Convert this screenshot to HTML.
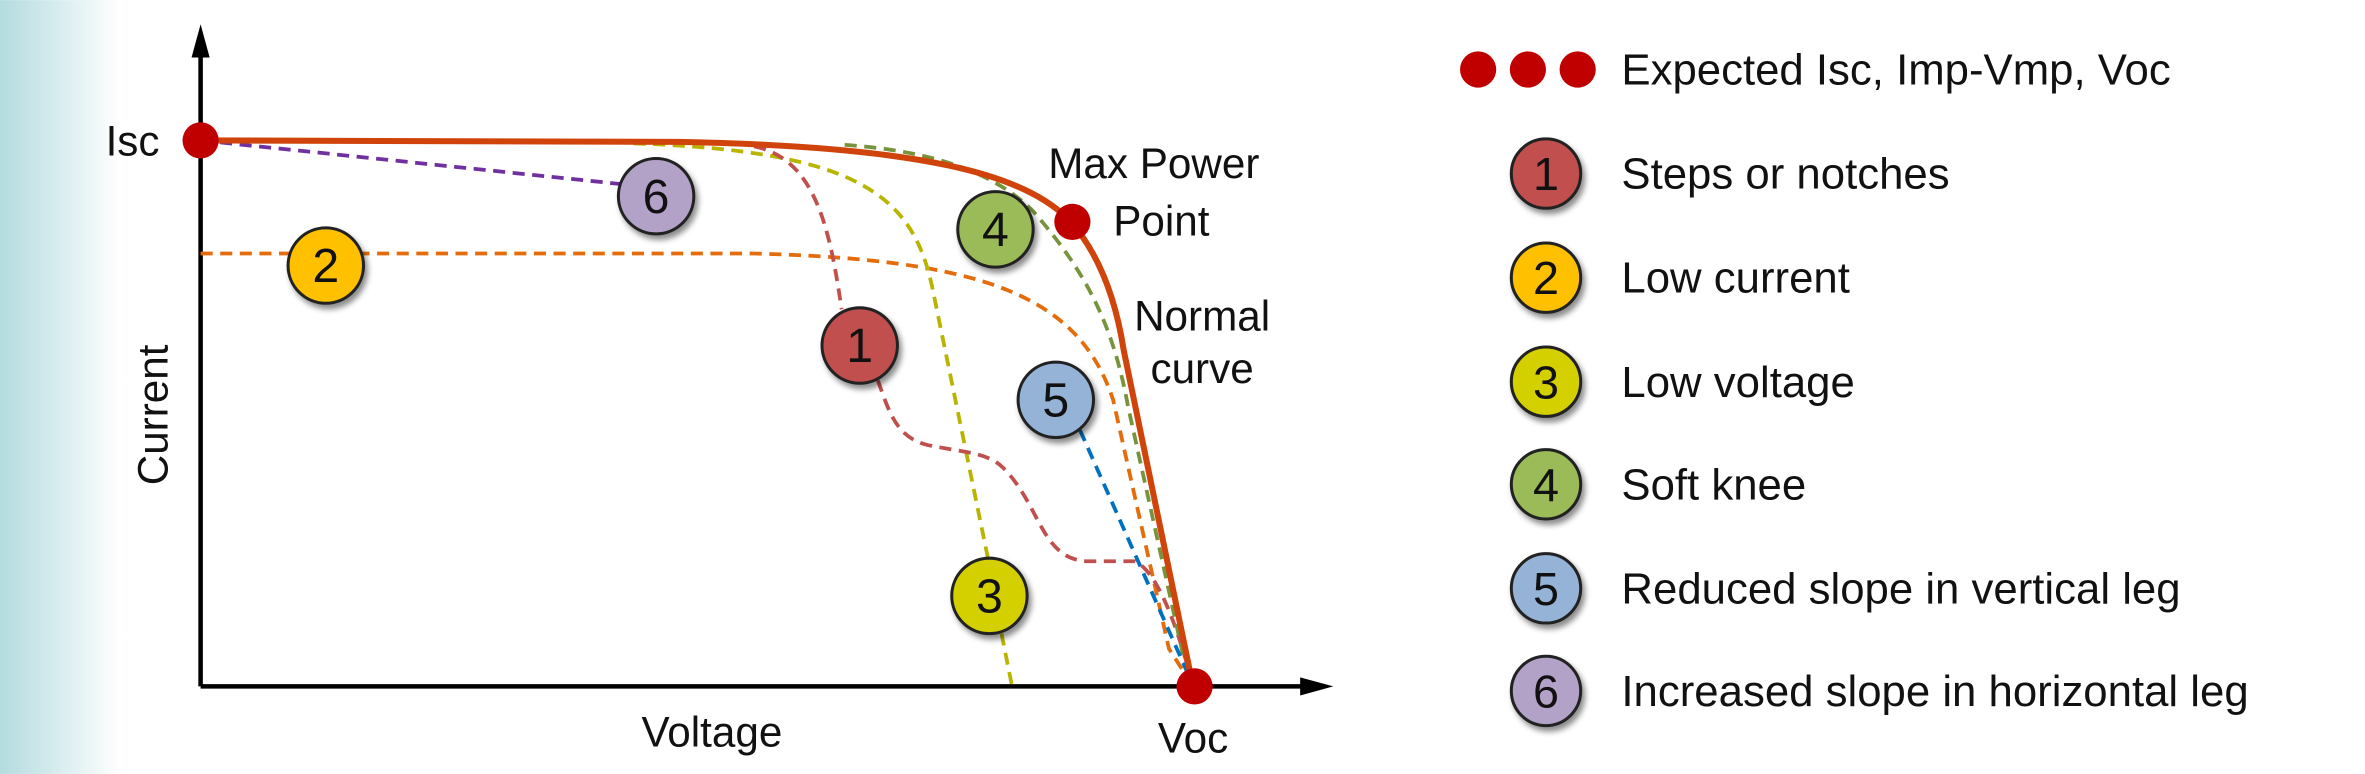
<!DOCTYPE html>
<html><head><meta charset="utf-8"><style>
html,body{margin:0;padding:0;background:#fff}
svg{display:block}
text{font-family:"Liberation Sans",sans-serif;fill:#111}
</style></head><body>
<svg width="2365" height="774" viewBox="0 0 1568 513" xmlns="http://www.w3.org/2000/svg">
<defs>
<linearGradient id="g" x1="0" x2="1" y1="0" y2="0">
<stop offset="0" stop-color="#b4dbdf"/><stop offset="1" stop-color="#ffffff"/>
</linearGradient>
<filter id="sh" x="-30%" y="-30%" width="170%" height="170%">
<feDropShadow dx="2" dy="3" stdDeviation="2" flood-color="#000" flood-opacity="0.45"/>
</filter>
</defs>
<rect x="0" y="0" width="80" height="513" fill="url(#g)"/>
<line x1="133" y1="455" x2="133" y2="30" stroke="#000" stroke-width="3"/>
<polygon points="133,16 127,38 139,38" fill="#000"/>
<line x1="133" y1="455" x2="868" y2="455" stroke="#000" stroke-width="3"/>
<polygon points="884,455 862,449 862,461" fill="#000"/>
<g fill="none" stroke-width="2.5" stroke-dasharray="8,5">
<path d="M133,93 L412,122" stroke="#7030a0"/>
<path d="M133,168 L500,168 C650,172 715,195 738,265 L775,430 L791,455" stroke="#e46c0a"/>
<path d="M420,95 C570,100 605,130 618,190 L655,370" stroke="#b8b400"/>
<path d="M664,420 L671,455" stroke="#b8b400"/>
<path d="M500,97 C540,105 550,150 558,205" stroke="#c0504d"/>
<path d="M582,252 C590,275 595,290 615,295 C640,300 655,300 665,310 C690,335 690,370 720,372 L752,372 C768,378 782,420 791,455" stroke="#c0504d"/>
<path d="M560,96 C620,100 660,115 685,140 C720,180 738,215 748,270 L789,455" stroke="#77933c"/>
<path d="M716,285 L790,452" stroke="#0070c0"/>
</g>
<path d="M133,93 L450,94 C610,97 680,115 710,147 C730,170 740,200 745,232 L791,455" fill="none" stroke="#d0440c" stroke-width="4"/>
<circle cx="133" cy="93" r="12" fill="#c00000"/>
<circle cx="711" cy="147" r="12" fill="#c00000"/>
<circle cx="792" cy="455" r="12" fill="#c00000"/>
<g stroke="#222" stroke-width="2" filter="url(#sh)">
<circle cx="435" cy="130" r="25" fill="#b3a2c7"/>
<circle cx="216" cy="176" r="25" fill="#ffc000"/>
<circle cx="570" cy="229" r="25" fill="#c0504d"/>
<circle cx="660" cy="152" r="25" fill="#9bbb59"/>
<circle cx="700" cy="265" r="25" fill="#95b3d7"/>
<circle cx="656" cy="395" r="25" fill="#d4d000"/>
</g>
<g font-size="32" text-anchor="middle">
<text x="435" y="141">6</text>
<text x="216" y="187">2</text>
<text x="570" y="240">1</text>
<text x="660" y="163">4</text>
<text x="700" y="276">5</text>
<text x="656" y="406">3</text>
</g>
<g font-size="28">
<text x="70" y="103">Isc</text>
<text x="765" y="118" text-anchor="middle">Max Power</text>
<text x="770" y="156" text-anchor="middle">Point</text>
<text x="797" y="219" text-anchor="middle">Normal</text>
<text x="797" y="254" text-anchor="middle">curve</text>
<text x="472" y="495" text-anchor="middle">Voltage</text>
<text x="791" y="499" text-anchor="middle">Voc</text>
<text transform="translate(111,275) rotate(-90)" text-anchor="middle">Current</text>
</g>
<circle cx="980" cy="46" r="12" fill="#c00000"/>
<circle cx="1013" cy="46" r="12" fill="#c00000"/>
<circle cx="1046" cy="46" r="12" fill="#c00000"/>
<g stroke="#222" stroke-width="2" filter="url(#sh)">
<circle cx="1025" cy="115" r="23" fill="#c0504d"/>
<circle cx="1025" cy="184" r="23" fill="#ffc000"/>
<circle cx="1025" cy="253" r="23" fill="#d4d000"/>
<circle cx="1025" cy="321" r="23" fill="#9bbb59"/>
<circle cx="1025" cy="390" r="23" fill="#95b3d7"/>
<circle cx="1025" cy="458" r="23" fill="#b3a2c7"/>
</g>
<g font-size="31" text-anchor="middle">
<text x="1025" y="126">1</text>
<text x="1025" y="195">2</text>
<text x="1025" y="264">3</text>
<text x="1025" y="332">4</text>
<text x="1025" y="401">5</text>
<text x="1025" y="469">6</text>
</g>
<g font-size="29">
<text x="1075" y="56">Expected Isc, Imp-Vmp, Voc</text>
<text x="1075" y="125">Steps or notches</text>
<text x="1075" y="194">Low current</text>
<text x="1075" y="263">Low voltage</text>
<text x="1075" y="331">Soft knee</text>
<text x="1075" y="400">Reduced slope in vertical leg</text>
<text x="1075" y="468">Increased slope in horizontal leg</text>
</g>
</svg>
</body></html>
